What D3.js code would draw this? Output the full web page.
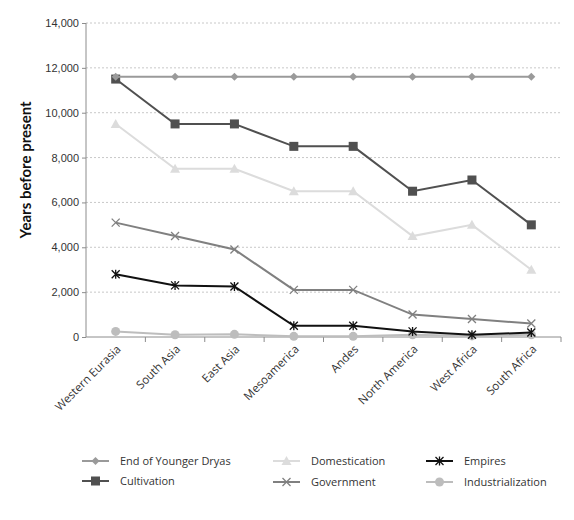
<!DOCTYPE html>
<html>
<head>
<meta charset="utf-8">
<script src="https://cdn.jsdelivr.net/npm/d3@7"></script>
<style>
  body { margin: 0; background: #fff; }
  svg { font-family: "Open Sans", "Noto Sans", sans-serif; }
  .grid line { stroke: #c8c8c8; stroke-dasharray: 2,2; }
  .axis path, .axis line { stroke: #8c8c8c; }
  .axis text { fill: #333; font-size: 11px; }
</style>
</head>
<body>
<div id="chart"></div>
<script>
// regions on the x axis
const regions = ['Western Eurasia', 'South Asia', 'East Asia', 'Mesoamerica',
  'Andes', 'North America', 'West Africa', 'South Africa'];

// years before present, one array per transition
const dryas = [11600, 11600, 11600, 11600, 11600, 11600, 11600, 11600];
const cultivation = [11500, 9500, 9500, 8500, 8500, 6500, 7000, 5000];
const domestication = [9500, 7500, 7500, 6500, 6500, 4500, 5000, 3000];
const government = [5100, 4500, 3900, 2100, 2100, 1000, 800, 600];
const empires = [2800, 2300, 2250, 500, 500, 250, 100, 200];
const industrialization = [250, 100, 120, 30, 30, 100, 50, 100];

const yTicks = [0, 2000, 4000, 6000, 8000, 10000, 12000, 14000];

const series = [
  { name: 'End of Younger Dryas', values: dryas, color: '#9a9a9a', marker: 'diamond' },
  { name: 'Cultivation', values: cultivation, color: '#505050', marker: 'square' },
  { name: 'Domestication', values: domestication, color: '#dcdcdc', marker: 'triangle' },
  { name: 'Government', values: government, color: '#808080', marker: 'cross' },
  { name: 'Empires', values: empires, color: '#111111', marker: 'asterisk' },
  { name: 'Industrialization', values: industrialization, color: '#bdbdbd', marker: 'circle' }
];

const width = 574, height = 520;
const margin = { top: 23, right: 13, bottom: 183, left: 86 };
const innerW = width - margin.left - margin.right;
const innerH = height - margin.top - margin.bottom;

const svg = d3.select('#chart').append('svg')
  .attr('width', width)
  .attr('height', height);

const g = svg.append('g')
  .attr('transform', `translate(${margin.left},${margin.top})`);

const x = d3.scaleBand().domain(regions).range([0, innerW]);
const y = d3.scaleLinear().domain([0, 14000]).range([innerH, 0]);
const cx = d => x(d) + x.bandwidth() / 2;

// dotted gridlines
g.append('g').attr('class', 'grid')
  .selectAll('line')
  .data(yTicks.slice(1))
  .enter().append('line')
  .attr('x1', 0).attr('x2', innerW)
  .attr('y1', d => y(d)).attr('y2', d => y(d));

// y axis
g.append('g').attr('class', 'axis')
  .call(d3.axisLeft(y).tickValues(yTicks).tickSize(4).tickPadding(3).tickFormat(d3.format(',')))
  .call(a => a.select('.domain').attr('d', `M0,0V${innerH}`));

// x axis, ticks at band boundaries
const xa = g.append('g').attr('class', 'axis')
  .attr('transform', `translate(0,${innerH})`);
xa.append('line').attr('x1', 0).attr('x2', innerW).attr('y1', 0).attr('y2', 0);
xa.selectAll('.bt')
  .data(d3.range(1, regions.length + 1))
  .enter().append('line')
  .attr('x1', i => i * x.step()).attr('x2', i => i * x.step())
  .attr('y1', 0).attr('y2', 5);
xa.selectAll('text')
  .data(regions)
  .enter().append('text')
  .attr('transform', d => `translate(${cx(d) + 3},${10}) rotate(-45)`)
  .attr('text-anchor', 'end')
  .attr('dy', '0.35em')
  .style('font-size', '11.5px')
  .text(d => d);

// y label
svg.append('text')
  .attr('transform', `translate(31,${margin.top + innerH / 2 - 10}) rotate(-90)`)
  .attr('text-anchor', 'middle')
  .style('font-family', 'Lato, "Open Sans", sans-serif')
  .style('font-size', '15px')
  .style('font-weight', 'bold')
  .style('fill', '#111')
  .text('Years before present');

function drawMarker(sel, type, color) {
  if (type === 'diamond') {
    sel.append('path').attr('d', 'M0,-4L4,0L0,4L-4,0Z').attr('fill', color);
  } else if (type === 'square') {
    sel.append('rect').attr('x', -4.5).attr('y', -4.5).attr('width', 9).attr('height', 9).attr('fill', color);
  } else if (type === 'triangle') {
    sel.append('path').attr('d', 'M0,-5L5,4L-5,4Z').attr('fill', color);
  } else if (type === 'circle') {
    sel.append('circle').attr('r', 4.5).attr('fill', color);
  } else if (type === 'cross') {
    sel.append('path').attr('d', 'M-4,-4L4,4M-4,4L4,-4')
      .attr('stroke', color).attr('stroke-width', 1.3).attr('fill', 'none');
  } else if (type === 'asterisk') {
    sel.append('path').attr('d', 'M-4,-4L4,4M-4,4L4,-4M0,-4.5V4.5')
      .attr('stroke', color).attr('stroke-width', 1.3).attr('fill', 'none');
  }
}

const line = d3.line()
  .x((v, i) => cx(regions[i]))
  .y(v => y(v));

// draw in reverse so the upper series sit on top where they meet
series.slice().reverse().forEach(s => {
  g.append('path')
    .datum(s.values)
    .attr('fill', 'none')
    .attr('stroke', s.color)
    .attr('stroke-width', 2)
    .attr('d', line);
  g.selectAll(null)
    .data(s.values)
    .enter().append('g')
    .attr('transform', (v, i) => `translate(${cx(regions[i])},${y(v)})`)
    .each(function() { drawMarker(d3.select(this), s.marker, s.color); });
});

// legend, 3 columns x 2 rows
const legendPos = [
  { x: 82, y: 461 }, { x: 82, y: 481 },
  { x: 273, y: 461 }, { x: 273, y: 482 },
  { x: 426, y: 461 }, { x: 426, y: 482 }
];
const legend = svg.append('g');
series.forEach((s, i) => {
  const p = legendPos[i];
  const item = legend.append('g').attr('transform', `translate(${p.x},${p.y})`);
  item.append('line').attr('x1', 0).attr('x2', 27)
    .attr('stroke', s.color).attr('stroke-width', 2);
  drawMarker(item.append('g').attr('transform', 'translate(13.5,0)'), s.marker, s.color);
  item.append('text')
    .attr('x', 38).attr('dy', '0.35em')
    .style('font-size', '11px')
    .style('fill', '#333')
    .text(s.name);
});
</script>
</body>
</html>
